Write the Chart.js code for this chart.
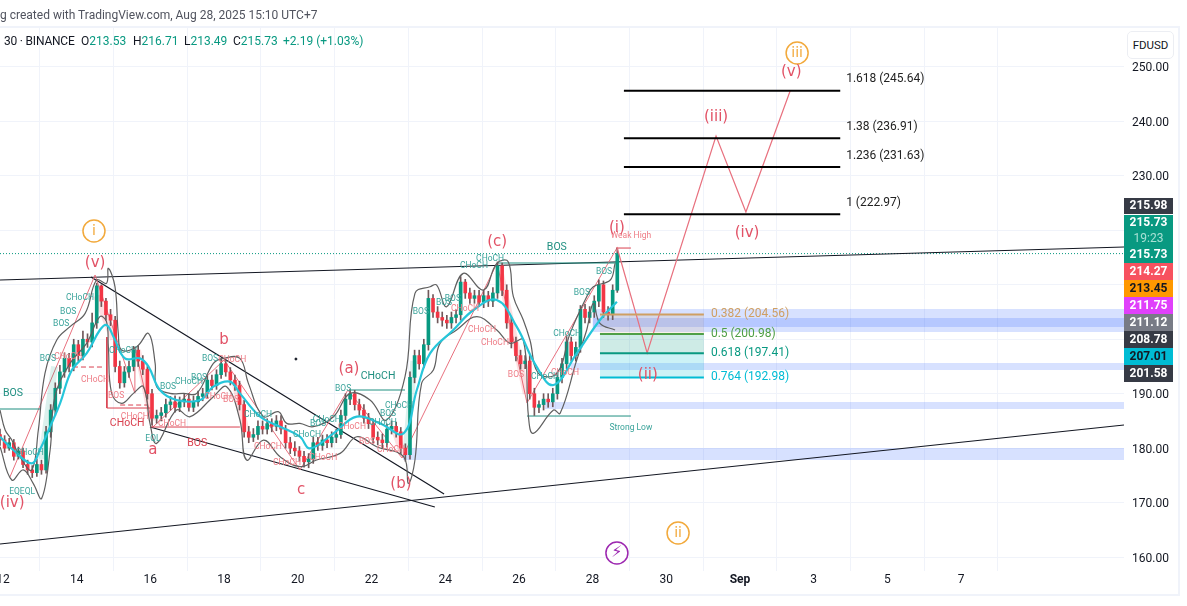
<!DOCTYPE html>
<html>
<head>
<meta charset="utf-8">
<title>SOL FDUSD 30</title>
<script src="https://cdn.jsdelivr.net/npm/chart.js@4"></script>
<style>
  html, body { margin: 0; padding: 0; background: #fff; overflow: hidden; }
  #wrap { position: relative; width: 1187px; height: 606px; font-family: Roboto, sans-serif; }
  #frame { position: absolute; left: -3px; top: 26px; width: 1179px; height: 566px; border: 2px solid #f0f3fa; }
  canvas { position: absolute; left: 0; top: 0; }
  .t { position: absolute; font-size: 12px; white-space: nowrap; line-height: 14px; }
  .up { color: #089981; }
  .ink { color: #131722; }
  #unit { position: absolute; left: 1127px; top: 31px; width: 45px; height: 26px; line-height: 26px; text-align: center;
          border: 1px solid #eceef3; border-radius: 5px; font-size: 11.5px; color: #131722; background: #fff; }
</style>
</head>
<body>
<div id="wrap">
  <div id="frame"></div>
  <canvas id="chart" width="1187" height="606"></canvas>
  <div class="t" style="left:0;top:8px;color:#50535e">g created with TradingView.com, Aug 28, 2025 15:10 UTC+7</div>
  <div class="t ink" style="left:4px;top:34px;letter-spacing:-.2px">30 · BINANCE</div>
  <div class="t ink" style="left:81px;top:34px">O<span class="up">213.53</span></div>
  <div class="t ink" style="left:133px;top:34px">H<span class="up">216.71</span></div>
  <div class="t ink" style="left:184px;top:34px">L<span class="up">213.49</span></div>
  <div class="t ink" style="left:233px;top:34px">C<span class="up">215.73</span></div>
  <div class="t up" style="left:283px;top:34px">+2.19 (+1.03%)</div>
  <div id="unit">FDUSD</div>
</div>
<script>
// axis
const dayTicks = [12, 14, 16, 18, 20, 22, 24, 26, 28, 30, 32, 34, 36, 38]
const dayLabels = ['12', '14', '16', '18', '20', '22', '24', '26', '28', '30', 'Sep', '3', '5', '7']
const priceTicks = [160, 170, 180, 190, 200, 210, 220, 230, 240, 250]

// candles, one every 3 hours
const firstCandleDay = 11.92
const candleStep = 0.125
const firstOpen = 182.5
const closes = [
  181.5,180,181,178.5,179.5,177,176,175.5,
  177,176,183,187,191,194,196.5,195,
  199,197,200,199.5,203,209.8,207,204.5,
  203.5,195,192,194,195,198,196,194.5,
  190,185.5,186,186.5,188,188.5,187.5,188.5,
  189,187.5,188.5,189.5,190,192.5,191.5,193.5,
  195.5,194,192.5,191.5,188,183,182,182.5,
  184,183.5,184.5,184,185,183.5,181,180,
  179.5,178.5,177.5,178,181,180.5,181.5,181,
  182,182.5,186,189,190,188,187,185.5,
  184.5,182,181.5,181,183.5,184,183,180,
  178.8,193,197,195.5,199,207.5,205,204,
  203.5,203,204,204.5,210.5,208.5,207.5,208,
  206.8,208,207,208.5,213.5,209,203,199.5,
  197,195.5,196,190,187.5,188,189,188.5,
  190,193,195.5,199.5,197,198.5,205.5,204,
  205,207,210,205,204.5,209,215.73
]
const highs = [
  183.5,182.3,181.8,181.6,180.2,180,177.8,176.8,
  178,177.8,184,188,192,195.2,197.5,197.4,
  200,199.8,201.5,201,204.8,210.3,210,207.5,
  205.5,204.2,196,195,196,198.7,198.8,197,
  195,190.8,187,187.5,189,189.5,189.6,189.4,
  190,190,189.6,190.5,191,193.3,193.4,194.4,
  196.4,196.2,194.8,193.4,192.3,188.8,184,183.6,
  185,185,185.4,185.4,186,186,184.2,182,
  181.2,180.3,179.4,179,182,182,182.4,182.5,
  183,183.5,187,190,190.8,190.6,189,188,
  186.4,185.3,183,182.6,184.4,185,184.8,183.8,
  180.8,194,198,198,200,209,208.2,206,
  205,204.4,205,205.4,211.5,211,209.4,209,
  209,209,208.8,209.5,214.2,214,210,204,
  200.4,198,197,197,191,188.7,190,190,
  191,194,196.5,200.5,200.4,199.5,206.2,206.4,
  206,208,210.9,210.7,206,210,216.71
]
const lows = [
  180.5,179.2,179.6,177.8,178,176.4,175.2,174.6,
  174.8,175.2,175.4,182,186,190,193,194,
  194.2,196,196.2,198.5,198.6,202,206,203.5,
  202.5,194,191,191.2,193,194.2,195,193.5,
  189,184.2,184.6,185,185.7,187,186.6,186.7,
  187.6,186.8,186.7,187.7,188.7,189.2,190.7,190.8,
  192.8,193.2,191.6,190.6,187,182,181,181.2,
  181.6,182.6,182.6,183,183.2,182.6,180,179,
  178.6,177.6,176.5,176.4,177.2,179.6,179.6,180.1,
  180.2,181,181.8,185.2,188,187,186,184.6,
  183.6,181,180.6,180,180.2,182.6,182,179,
  177.6,178,192,194.5,194.8,198,204,203,
  202.4,202,202,203,203.5,207.5,206.6,206.6,
  206,205.8,206,206,207.5,208,202,198.4,
  196,194.5,194.6,189,186,186.5,187,187.5,
  187.6,189,192,194.6,196,196,197.6,203,
  203,204,206,204,203.5,203.6,208.6
]

// moving average
const emaDays = [11.92,12.28,12.78,13,13.28,13.55,13.87,14.27,14.63,14.81,15,15.31,15.72,15.95,16.26,16.71,17.35,17.71,18.16,18.43,18.98,19.52,20.06,20.33,20.97,21.6,22.23,22.87,23.23,23.59,24.22,24.77,25.4,25.94,26.48,26.94,27.57,28.2,28.66]
const emaVals = [182.1,179.66,177.21,179.66,183.94,188.23,194.35,197.41,201.7,202.61,200.47,196.49,196.49,194.96,190.68,188.84,188.84,191.29,192.21,190.06,185.78,183.94,182.1,179.96,182.72,185.78,184.55,182.72,190.68,197.41,201.7,205.37,207.2,202.31,194.96,191.6,197.41,203.53,206.9]

// envelope around the candles
const upperDays = [11.92,12.06,12.24,12.46,12.78,12.96,13.14,13.46,13.82,14.23,14.54,14.81,14.86,15.04,15.13,15.22,15.63,15.95,16.13,16.17,16.53,16.9,17.26,17.71,17.98,18.43,18.66,19.07,19.47,19.7,20.06,20.42,20.97,21.42,21.96,22.41,22.91,23.18,23.59,23.77,24.04,24.49,25.04,25.4,25.71,25.85,26.12,26.3,26.53,27.03,27.39,27.84,28.02,28.48,28.61]
const upperVals = [187,183.33,181.49,178.43,175.98,183.33,193.74,199.86,202.31,204.76,210.88,210.27,213.02,209.65,201.08,198.02,198.63,201.08,195.57,191.29,190.06,190.06,190.06,195.57,196.49,196.49,191.9,185.78,186.7,184.55,184.55,183.94,185.78,190.06,188.84,185.17,193.12,208.43,209.65,209.96,205.98,212.1,209.04,213.94,214.24,207.82,203.53,199.86,193.74,193.74,201.08,207.82,209.65,210.88,213.94]
const lowerDays = [11.92,12.24,12.55,12.82,13.05,13.28,13.41,13.82,14.27,14.63,14.81,14.86,14.95,15.22,15.54,15.81,15.99,16.17,16.71,17.08,17.71,18.07,18.43,18.61,19.07,19.52,20.06,20.51,21.15,21.6,22.14,22.87,23,23.18,23.36,23.68,23.86,24.31,24.86,25.4,25.76,26.12,26.26,26.39,26.94,27.12,27.57,27.84,28.02,28.2,28.61]
const lowerVals = [180.27,174.15,176,173.53,170.78,179.66,189.45,195.57,199.25,204.14,203.23,198.63,190.06,188.23,190.06,191.29,184.55,180.88,187,185.78,189.45,191.29,185.17,177.82,181.49,178.43,176.6,177.82,179.04,182.1,180.27,178.43,173.53,177.82,191.9,194.35,199.25,201.7,204.14,201.7,199.25,199.86,185.78,182.72,187,186.39,196.18,201.7,206.59,202.92,201.7]

// elliott waves
const waveDays = [12.19,14.5,15.58,15.58,16.07,18,20.06,21.36,22.83,25.41,26.22,28.66]
const waveVals = [174.7,211.8,190.1,198.57,183.88,196.18,176,190.67,178.2,214,188.29,216.75]
const forecastDays = [28.66,29.48,31.35,32.16,33.36]
const forecastVals = [216.94,197.47,237.32,223.37,245.6]

// pale shading along the fast moves, start and end of each
const dropDays = [[14.54,15.0],[15.65,16.05],[18.3,18.6],[22.6,22.85],[25.5,26.2]]
const dropVals = [[208,200],[198,185],[192,183],[184,179],[212,190]]
const riseDays = [[13.05,13.4],[22.95,23.15]]
const riseVals = [[178,195],[180,196]]

// trend lines, each from a start to an end
const upperTrendDays = [11.92,42.42]
const upperTrendVals = [210.88,216.94]
const lowerTrendDays = [11.92,42.42]
const lowerTrendVals = [162.4,184.25]
const wedgeTopDays = [14.39,23.97]
const wedgeTopVals = [211.43,171.58]
const wedgeBottomDays = [15.99,23.72]
const wedgeBottomVals = [183.88,169.19]

// fib levels
const fibUpperRatios = ['1.618','1.38','1.236','1']
const fibUpperLevels = [245.64,236.91,231.63,222.97]
const fibLowerRatios = ['0.382','0.5','0.618','0.764']
const fibLowerLevels = [204.56,200.98,197.41,192.98]
const fibLowerColors = ['#cf9f63','#4f9f45','#089981','#00bcd4']
const fibUpperSpan = [28.85,34.72]
const fibLowerSpan = [28.2,31.02]

// blue supply and demand bands, top and bottom price
const bandStarts = [28.0,28.0,27.4,26.7,22.85]
const bandTops = [205.55,203.9,195.63,188.47,180.02]
const bandBottoms = [201.33,202.25,194.35,187.19,177.82]

// structure levels
const current = 215.73
const lastDay = 42.42

// labels
const redBigText = ['(v)','(iii)','(iv)','(ii)','(i)','(c)','(a)','(b)','(v)','(iv)','b','a','c']
const redBigDays = [33.39,31.35,32.19,29.5,28.66,25.41,21.39,22.8,14.5,12.25,18,16.07,20.09]
const redBigVals = [249.08,240.81,219.51,193.43,220.43,217.86,194.53,173.41,214,169.92,199.86,179.66,172.31]

const greenText = ['CHoCH','BOS','BOS','BOS','CHoCH','CHoCH','EQEQL','EQL','BOS','CHoCH','BOS','BOS','CHoCH','CHoCH','BOS','CHoCH','BOS','CHoCH','BOS','CHoCH','BOS','BOS','BOS','CHoCH','CHoCH','CHoCH','CHoCH','BOS','BOS','Strong Low']
const greenDays = [14.09,13.77,13.58,13.22,15.26,12.73,12.52,16.07,16.48,17.05,17.32,17.62,18.92,20.25,20.55,20.79,21.23,22.75,22.45,22.31,23.34,23.97,24.21,24.78,25.22,26.71,27.31,27.71,28.31,29.04]
const greenVals = [207.57,205,202.8,196.37,197.84,179.11,171.94,181.68,191.23,192.15,192.88,196.37,186.09,182.41,184.43,185.17,190.86,187.74,186.27,184.62,205,206.65,207.39,213.45,214.74,193.06,200.96,208.49,212.35,183.7]
const greenBigText = ['BOS','CHoCH','BOS']
const greenBigDays = [12.27,22.18,27.03]
const greenBigVals = [190.13,193.25,216.94]

const pinkText = ['CHoCH','CHoCH','CHoCH','CHoCH','BOS','BOS','CHoCH','CHoCH','CHoCH','CHoCH','CHoCH','CHoCH','BOS','CHoCH','CHoCH','CHoCH','CHoCH','BOS','CHoCH','Weak High']
const pinkDays = [14.5,15.58,16.59,17.84,18.19,15.07,13.77,19.19,19.71,18.22,20.69,21.47,21.88,22.53,25,25.35,24.54,25.92,27.25,29.04]
const pinkVals = [192.51,185.72,184.43,189.39,188.84,189.57,196.74,180.21,177.27,196.19,178.19,183.88,181.13,179.66,201.7,199.31,205.55,193.43,193.8,218.96]
const redSmallText = ['CHoCH','BOS']
const redSmallDays = [15.37,17.27]
const redSmallVals = [184.62,180.94]

// circled degree marks
const ringText = ['i','iii','ii','⚡']
const ringDays = [14.47,33.55,30.32,28.66]
const ringVals = [219.88,252.57,164.41,160.74]
const ringColors = ['#f2a93b','#f2a93b','#f2a93b','#9c27b0']

// price scale tags
const tagText = ['215.98','215.73','19:23','215.73','214.27','213.45','211.75','211.12','208.78','207.01','201.58']
const tagColors = ['#363a45','#089981','#089981','#089981','#f7525f','#ff9800','#e040fb','#787b86','#363a45','#00bcd4','#363a45']
const tagInk = ['#fff','#fff','#a8e0d4','#fff','#fff','#131722','#fff','#fff','#fff','#131722','#fff']
const tagTops = [198,215,231,246,263,280,297,314,331,348,365]
const tagBottoms = [214,231,246,263,280,297,314,331,348,365,382]

const pts = (days, vals) => days.map((d, i) => ({ x: d, y: vals[i] }))

const line = (days, vals, color, width, extra) => Object.assign({
  type: 'line', data: pts(days, vals), borderColor: color, borderWidth: width,
  pointRadius: 0, tension: 0, fill: false
}, extra)

const box = (span, top, bottom, color) => ({
  type: 'line', data: pts(span, [top, top]), borderWidth: 0, pointRadius: 0,
  fill: { value: bottom }, backgroundColor: color
})

const opens = closes.map((c, i) => i ? closes[i - 1] : firstOpen)
const candleDays = closes.map((c, i) => firstCandleDay + i * candleStep)

const RED = '#e25266'
const THIN_RED = '#e8707e'
const TEAL = '#1f8f80'
const datasets = []

// bands go first so everything else sits on them
bandStarts.forEach((s, i) => {
  datasets.push(box([s, lastDay], bandTops[i], bandBottoms[i], 'rgba(41,98,255,.19)'))
})
datasets.push(box(fibLowerSpan, fibLowerLevels[0], fibLowerLevels[1], 'rgba(207,159,99,.14)'))
datasets.push(box(fibLowerSpan, fibLowerLevels[1], fibLowerLevels[2], 'rgba(8,153,129,.2)'))
datasets.push(box(fibLowerSpan, fibLowerLevels[2], fibLowerLevels[3], 'rgba(0,188,212,.2)'))

datasets.push(line([11.92, lastDay], [current, current], '#089981', 1, { borderDash: [1, 2] }))

datasets.push(line(wedgeTopDays, wedgeTopVals, '#131722', 1.2))
datasets.push(line(wedgeBottomDays, wedgeBottomVals, '#131722', 1.2))
datasets.push(line(upperTrendDays, upperTrendVals, '#131722', 1.2))
datasets.push(line(lowerTrendDays, lowerTrendVals, '#131722', 1.2))

datasets.push(line(waveDays, waveVals, THIN_RED, 1))

dropDays.forEach((d, i) => datasets.push(line(d, dropVals[i], 'rgba(242,54,69,.16)', 7)))
riseDays.forEach((d, i) => datasets.push(line(d, riseVals[i], 'rgba(8,153,129,.14)', 7)))

// structure levels
datasets.push(line([14.82, 14.82, 16], [200.4, 187.37, 187.37], '#d9404f', 1))
datasets.push(line([16, 18.43], [183.88, 183.88], '#d9404f', 1))
datasets.push(line([13.9, 14.69], [194.9, 194.9], '#d9404f', 1, { borderDash: [5, 3] }))
datasets.push(line([15.18, 15.91], [187.92, 187.92], '#d9404f', 1, { borderDash: [5, 3] }))
datasets.push(line([28.64, 29.04], [216.75, 216.75], '#d9404f', 1))
datasets.push(line([11.92, 13.03], [187.19, 187.19], TEAL, 1))
datasets.push(line([21.42, 22.91], [190.68, 190.68], TEAL, 1))
datasets.push(line([25.43, 28.66], [214, 214], TEAL, 1.2))
datasets.push(line([26.22, 29.04], [185.9, 185.9], TEAL, 1))

// candles: wick then body
datasets.push({
  type: 'bar', barThickness: 1, backgroundColor: '#70585a',
  data: candleDays.map((d, i) => ({ x: d, y: [lows[i], highs[i]] }))
})
datasets.push({
  type: 'bar', barThickness: 3,
  backgroundColor: closes.map((c, i) => c >= opens[i] ? '#089981' : '#f23645'),
  data: candleDays.map((d, i) => ({ x: d, y: [Math.min(opens[i], closes[i]), Math.max(opens[i], closes[i])] }))
})

datasets.push(line(upperDays, upperVals, '#5f5f5f', 1.2, { tension: 0.4 }))
datasets.push(line(lowerDays, lowerVals, '#5f5f5f', 1.2, { tension: 0.4 }))
datasets.push(line(emaDays, emaVals, '#26c6da', 2.2, { tension: 0.4 }))

datasets.push(line(forecastDays, forecastVals, THIN_RED, 1.2))

fibUpperLevels.forEach(l => datasets.push(line(fibUpperSpan, [l, l], '#000', 2)))
fibLowerLevels.forEach((l, i) => datasets.push(line(fibLowerSpan, [l, l], fibLowerColors[i], 2)))

datasets.push({
  type: 'line', data: pts(ringDays, ringVals), showLine: false, pointRadius: 11,
  pointBackgroundColor: '#fff', pointBorderColor: ringColors, pointBorderWidth: 1.5
})
// stray dot on the drawing
datasets.push({
  type: 'line', data: [{ x: 19.95, y: 196.37 }], showLine: false, pointRadius: 1,
  pointBackgroundColor: '#131722', pointBorderColor: '#131722'
})

datasets.forEach((d, i) => { d.order = -i })

// text on the chart and the price tags
const overlay = {
  id: 'overlay',
  afterDatasetsDraw(chart) {
    const { ctx, scales: { x, y } } = chart
    const put = (text, day, val, font, color, align) => {
      ctx.font = font
      ctx.fillStyle = color
      ctx.textAlign = align || 'center'
      ctx.textBaseline = 'middle'
      ctx.fillText(text, x.getPixelForValue(day), y.getPixelForValue(val))
    }
    const small = '8.5px Roboto'
    const wave = '15px "DejaVu Sans"'
    ctx.save()
    ctx.beginPath()
    ctx.rect(chart.chartArea.left, chart.chartArea.top, chart.chartArea.width, chart.chartArea.height)
    ctx.clip()
    pinkText.forEach((t, i) => put(t, pinkDays[i], pinkVals[i], small, '#ee7c86'))
    greenText.forEach((t, i) => put(t, greenDays[i], greenVals[i], small, '#3aa39a'))
    greenBigText.forEach((t, i) => put(t, greenBigDays[i], greenBigVals[i], '10.5px Roboto', TEAL))
    redSmallText.forEach((t, i) => put(t, redSmallDays[i], redSmallVals[i], '10.5px Roboto', '#d9404f'))
    redBigText.forEach((t, i) => put(t, redBigDays[i], redBigVals[i], wave, RED))
    ringText.forEach((t, i) => put(t, ringDays[i], ringVals[i], i === 3 ? '16px "DejaVu Sans"' : '14px "DejaVu Sans"', ringColors[i]))
    fibUpperLevels.forEach((l, i) => {
      put(fibUpperRatios[i] + ' (' + l.toFixed(2) + ')', 34.88, l + 2.1, '12px Roboto', '#222', 'left')
    })
    fibLowerLevels.forEach((l, i) => {
      put(fibLowerRatios[i] + ' (' + l.toFixed(2) + ')', 31.21, l, '12px Roboto', fibLowerColors[i], 'left')
    })
    ctx.restore()

    tagText.forEach((t, i) => {
      ctx.fillStyle = tagColors[i]
      ctx.fillRect(1124, tagTops[i], 49, tagBottoms[i] - tagTops[i])
    })
    tagText.forEach((t, i) => {
      ctx.font = t === '19:23' ? '12px Roboto' : 'bold 12px Roboto'
      ctx.fillStyle = tagInk[i]
      ctx.textAlign = 'center'
      ctx.textBaseline = 'middle'
      ctx.fillText(t, 1148.5, (tagTops[i] + tagBottoms[i]) / 2)
    })
  }
}

new Chart(document.getElementById('chart'), {
  type: 'bar',
  data: { datasets },
  plugins: [overlay],
  options: {
    responsive: false,
    devicePixelRatio: 1,
    animation: false,
    // the big ring points would otherwise pad the plot inwards
    layout: { autoPadding: false, padding: { top: 28, right: 9, left: 0, bottom: 0 } },
    plugins: { legend: { display: false }, tooltip: { enabled: false }, title: { display: false } },
    datasets: { bar: { grouped: false } },
    scales: {
      x: {
        type: 'linear', min: 11.92, max: 42.42, offset: false,
        afterBuildTicks: s => { s.ticks = dayTicks.map(v => ({ value: v })) },
        afterFit: s => { s.height = 35; s.paddingLeft = 0; s.paddingRight = 0; s._margins.left = 0; s._margins.right = 0 },
        grid: { color: '#f0f3fa', drawTicks: false },
        border: { display: false },
        ticks: {
          autoSkip: false, maxRotation: 0, padding: 2, color: '#131722',
          font: c => ({ family: 'Roboto', size: 12, weight: c.tick && c.tick.value === 32 ? 'bold' : 'normal' }),
          callback: v => dayLabels[dayTicks.indexOf(v)]
        }
      },
      y: {
        type: 'linear', position: 'right', min: 157.44, max: 257.16,
        afterBuildTicks: s => { s.ticks = priceTicks.map(v => ({ value: v })) },
        afterFit: s => { s.width = 54 },
        grid: { color: '#f0f3fa', drawTicks: false },
        border: { display: false },
        ticks: {
          padding: 8, labelOffset: 1.5, color: '#131722', font: { family: 'Roboto', size: 12 },
          callback: v => v.toFixed(2)
        }
      }
    }
  }
})
</script>
</body>
</html>
